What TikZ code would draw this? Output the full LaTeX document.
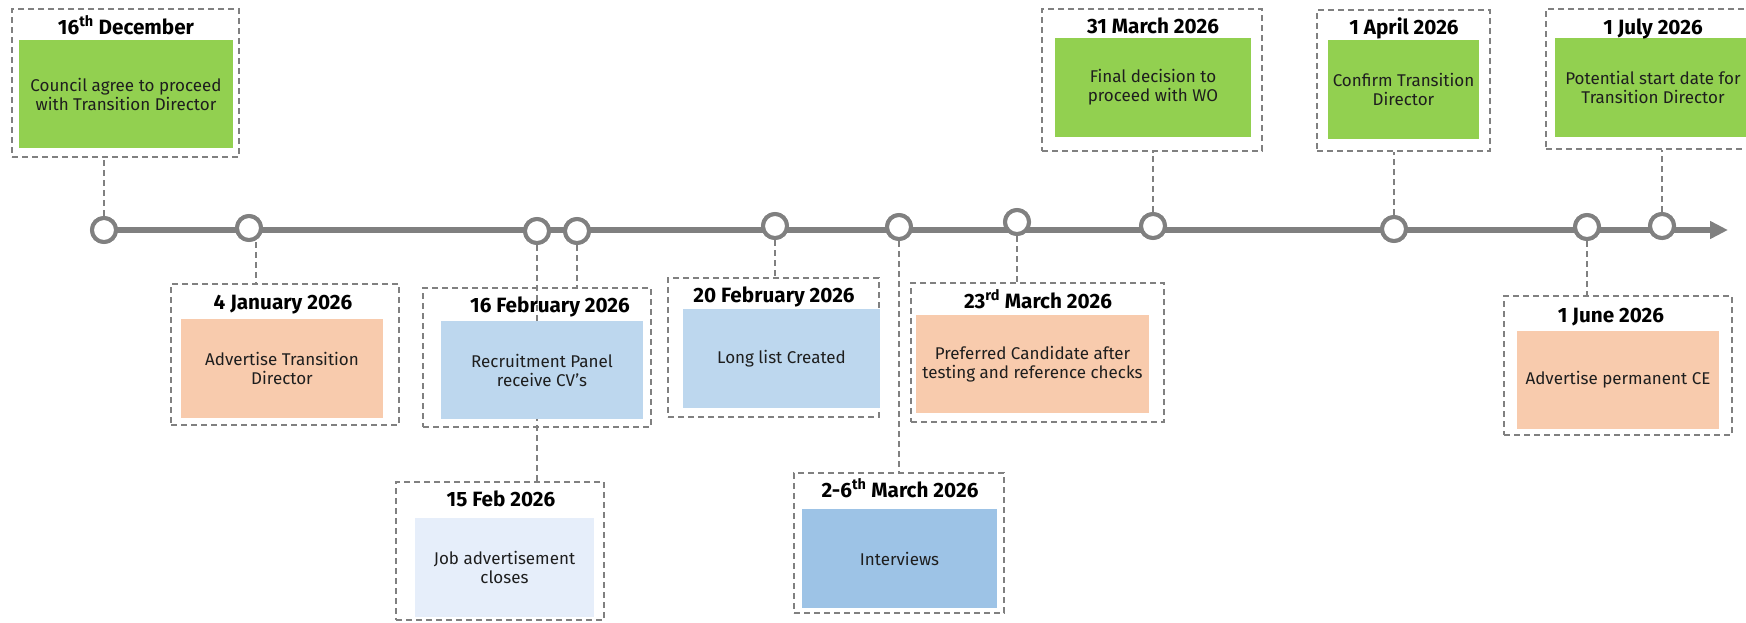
\documentclass[tikz,border=0pt]{standalone}
\usepackage{fontspec}
\setmainfont{Fira Sans}
\usetikzlibrary{arrows.meta}

\definecolor{linegray}{HTML}{808080}
\definecolor{evgreen}{HTML}{92D050}
\definecolor{evpeach}{HTML}{F8CBAD}
\definecolor{evblue}{HTML}{BDD7EE}
\definecolor{evmidblue}{HTML}{9DC3E6}
\definecolor{evpale}{HTML}{E6EEFA}
\definecolor{bodyink}{HTML}{1E1E1E}

\tikzset{
  frame/.style={rectangle, draw=linegray, line width=1.4pt,
    dash pattern=on 6pt off 4pt, inner sep=0pt},
  card/.style={rectangle, inner sep=0pt, align=center, text=bodyink,
    font=\fontsize{17}{19}\selectfont},
  datelabel/.style={anchor=base, inner sep=0pt, text=black,
    font=\fontsize{20.7}{23}\selectfont\bfseries},
  conn/.style={draw=linegray, line width=1.5pt, dash pattern=on 6pt off 4pt},
  milestone/.style={circle, draw=linegray, fill=white, line width=4pt,
    minimum size=24pt, inner sep=0pt},
  timeline/.style={draw=linegray, line width=5.5pt,
    -{Triangle[length=18pt,width=17pt]}}
}

\begin{document}
\begin{tikzpicture}[x=1pt,y=-1pt]
\useasboundingbox (0,0) rectangle (1746,622);
\clip (0,0) rectangle (1746,622);

% milestone positions along the time axis
\coordinate (p1) at (104,230);
\coordinate (p2) at (249,228);
\coordinate (p3) at (537,231);
\coordinate (p4) at (577,231);
\coordinate (p5) at (775,226);
\coordinate (p6) at (899,227);
\coordinate (p7) at (1017,222);
\coordinate (p8) at (1153,226);
\coordinate (p9) at (1394,229);
\coordinate (p10) at (1587,227);
\coordinate (p11) at (1662,226);
\coordinate (tend) at (1728,230);

% dashed frames around each event
\node[frame, minimum width=227pt, minimum height=148pt] (fA) at (125.5,83) {};
\node[frame, minimum width=228pt, minimum height=141pt] (fB) at (285,354.5) {};
\node[frame, minimum width=228pt, minimum height=139pt] (fC) at (537,357.5) {};
\node[frame, minimum width=208pt, minimum height=138pt] (fD) at (500,551) {};
\node[frame, minimum width=211pt, minimum height=139pt] (fE) at (773.5,347.5) {};
\node[frame, minimum width=210pt, minimum height=140pt] (fF) at (899,543) {};
\node[frame, minimum width=253pt, minimum height=139pt] (fG) at (1037.5,352.5) {};
\node[frame, minimum width=220pt, minimum height=142pt] (fH) at (1152,80) {};
\node[frame, minimum width=173pt, minimum height=141pt] (fI) at (1403.5,80.5) {};
\node[frame, minimum width=214pt, minimum height=140pt] (fJ) at (1653,79) {};
\node[frame, minimum width=228pt, minimum height=139pt] (fK) at (1618,365.5) {};

% milestone markers (placed now so connectors can refer to them)
\foreach \i in {1,...,11} \node[milestone] (c\i) at (p\i) {};

% dashed leaders from markers to frames
\draw[conn] (c1.north) -- (c1.north |- fA.south);
\draw[conn] ([xshift=7pt]c2.south) -- ([xshift=7pt]c2.south |- fB.north);
\draw[conn] (c3.south) -- (c3.south |- fD.north);
\draw[conn] (c4.south) -- (c4.south |- fC.north);
\draw[conn] (c5.south) -- (c5.south |- fE.north);
\draw[conn] (c6.south) -- (c6.south |- fF.north);
\draw[conn] (c7.south) -- (c7.south |- fG.north);
\draw[conn] (c8.north) -- (c8.north |- fH.south);
\draw[conn] (c9.north) -- (c9.north |- fI.south);
\draw[conn] (c11.north) -- (c11.north |- fJ.south);
\draw[conn] (c10.south) -- (c10.south |- fK.north);

% coloured cards
\node[card, fill=evgreen, minimum width=214pt, minimum height=108pt] (bA) at (126,94)
  {Council agree to proceed\\with Transition Director};
\node[card, fill=evpeach, minimum width=202pt, minimum height=99pt] (bB) at (282,368.5)
  {Advertise Transition\\Director};
\node[card, fill=evblue, minimum width=202pt, minimum height=98pt] (bC) at (542,370)
  {Recruitment Panel\\receive CV’s};
\node[card, fill=evpale, minimum width=179pt, minimum height=99pt] (bD) at (504.5,567.5)
  {Job advertisement\\closes};
\node[card, fill=evblue, minimum width=197pt, minimum height=99pt] (bE) at (781.5,358.5)
  {Long list Created};
\node[card, fill=evmidblue, minimum width=195pt, minimum height=99pt] (bF) at (899.5,558.5)
  {Interviews};
\node[card, fill=evpeach, minimum width=233pt, minimum height=98pt] (bG) at (1032.5,364)
  {Preferred Candidate after\\testing and reference checks};
\node[card, fill=evgreen, minimum width=196pt, minimum height=99pt] (bH) at (1153,87.5)
  {Final decision to\\proceed with WO};
\node[card, fill=evgreen, minimum width=151pt, minimum height=99pt] (bI) at (1403.5,89.5)
  {Confirm Transition\\Director};
\node[card, fill=evgreen, minimum width=196pt, minimum height=99pt] (bJ) at (1653,87.5)
  {Potential start date for\\Transition Director};
\node[card, fill=evpeach, minimum width=202pt, minimum height=98pt] (bK) at (1618,380)
  {Advertise permanent CE};

% date headings
\node[datelabel] (tA) at (126,34) {16\textsuperscript{th} December};
\node[datelabel] (tB) at (283,309) {4 January 2026};
\node[datelabel] (tC) at (550,312) {16 February 2026};
\node[datelabel] (tD) at (501,506) {15 Feb 2026};
\node[datelabel] (tE) at (774,302) {20 February 2026};
\node[datelabel] (tF) at (900,497) {2-6\textsuperscript{th} March 2026};
\node[datelabel] (tG) at (1038,308) {23\textsuperscript{rd} March 2026};
\node[datelabel] (tH) at (1153,33) {31 March 2026};
\node[datelabel] (tI) at (1404,34) {1 April 2026};
\node[datelabel] (tJ) at (1653,34) {1 July 2026};
\node[datelabel] (tK) at (1611,322) {1 June 2026};

% time axis with markers on top
\draw[timeline] (c1.center) -- (tend);
\foreach \i in {1,...,11} \node[milestone] at (p\i) {};
\end{tikzpicture}
\end{document}
